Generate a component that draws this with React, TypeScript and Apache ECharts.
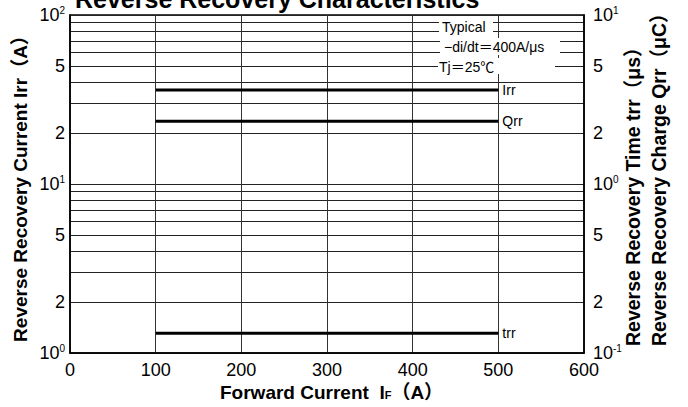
import React, { useEffect, useRef } from 'react';
import * as echarts from 'echarts';

// ---- data ----
const forwardCurrentA = [100, 500];
const irrA = [36, 36];
const qrrMicroC = [2.35, 2.35];
const trrMicroS = [0.131, 0.131];
const seriesNames = ['Irr', 'Qrr', 'trr'];

const leftLabelValues = [1, 2, 5, 10, 20, 50, 100];
const rightLabelValues = [0.1, 0.2, 0.5, 1, 2, 5, 10];
const leftGridValues = [1, 2, 3, 4, 5, 6, 7, 8, 9, 10, 20, 30, 40, 50, 60, 70, 80, 90, 100];

const titleText = 'Reverse Recovery Characteristics';
const leftAxisName = 'Reverse Recovery Current Irr（A）';
const rightAxisNames = ['Reverse Recovery Time trr（μs）', 'Reverse Recovery Charge Qrr（μC）'];
const noteTexts = ['Typical', '−di/dt＝400A/μs', 'Tj＝25℃'];

const FONT = "'Liberation Sans', Arial, 'Noto Sans CJK JP', sans-serif";

function powLabel(v: number): string {
  const e = Math.log10(v);
  const r = Math.round(e);
  if (Math.abs(e - r) < 1e-6) return `{b|10}{s|${r}}`;
  return `{b|${Math.round(v * Math.pow(10, -Math.floor(e)))}}`;
}

const labelRich = {
  b: { fontSize: 18, fontFamily: FONT, color: '#000', lineHeight: 20 },
  s: { fontSize: 10, fontFamily: FONT, color: '#000', verticalAlign: 'top', lineHeight: 20 },
};

export default function App() {
  const ref = useRef<HTMLDivElement>(null);
  useEffect(() => {
    if (!ref.current) return;
    const chart = echarts.init(ref.current, undefined, { renderer: 'svg' });
    const lineStyle = { color: '#000', width: 3 };
    const mk = (name: string, ys: number[], yAxisIndex: number) => ({
      name,
      type: 'line',
      yAxisIndex,
      data: forwardCurrentA.map((x, i) => [x, ys[i]]),
      symbol: 'none',
      lineStyle,
      itemStyle: { color: '#000' },
      z: 5,
      endLabel: {
        show: true,
        formatter: '{a}',
        fontSize: 14,
        fontFamily: FONT,
        color: '#000',
        distance: 4,
      },
    });
    chart.setOption({
      animation: false,
      backgroundColor: '#fff',
      grid: {
        left: 70,
        right: 104,
        top: 15,
        bottom: 54,
        show: true,
        borderColor: '#000',
        borderWidth: 1.5,
        containLabel: false,
        outerBoundsMode: 'none',
      },
      xAxis: {
        type: 'value',
        min: 0,
        max: 600,
        interval: 100,
        axisLine: { show: true, lineStyle: { color: '#000', width: 1.5 } },
        axisTick: { show: false },
        axisLabel: { fontSize: 18, fontFamily: FONT, color: '#000', margin: 8 },
        splitLine: { show: true, lineStyle: { color: '#333', width: 1 } },
      },
      yAxis: [
        {
          type: 'log',
          logBase: 10,
          min: 1,
          max: 100,
          position: 'left',
          axisLine: { show: true, onZero: false, lineStyle: { color: '#000', width: 1.5 } },
          axisTick: { show: false, customValues: leftGridValues },
          axisLabel: {
            customValues: leftLabelValues,
            formatter: (v: number) => powLabel(v),
            rich: labelRich,
            margin: 5,
            showMinLabel: true,
            showMaxLabel: true,
          },
          splitLine: { show: true, lineStyle: { color: '#222', width: 1 } },
        },
        {
          type: 'log',
          logBase: 10,
          min: 0.1,
          max: 10,
          position: 'right',
          axisLine: { show: true, onZero: false, lineStyle: { color: '#000', width: 1.5 } },
          axisTick: { show: false },
          axisLabel: {
            customValues: rightLabelValues,
            formatter: (v: number) => powLabel(v),
            rich: labelRich,
            margin: 9,
            showMinLabel: true,
            showMaxLabel: true,
          },
          splitLine: { show: false },
        },
      ],
      series: [
        mk(seriesNames[0], irrA, 0),
        mk(seriesNames[1], qrrMicroC, 1),
        mk(seriesNames[2], trrMicroS, 1),
      ],
      graphic: [
        {
          type: 'text', x: 75, y: -1, z: 100,
          style: { text: titleText, fontSize: 25, fontWeight: 'bold', fontFamily: FONT, fill: '#000', align: 'left', verticalAlign: 'middle' },
        },
        {
          type: 'text', x: 20, y: 184, rotation: Math.PI / 2, z: 100,
          style: { text: leftAxisName, fontSize: 19, fontWeight: 'bold', fontFamily: FONT, fill: '#000', align: 'center', verticalAlign: 'middle' },
        },
        {
          type: 'text', x: 633, y: 346, rotation: Math.PI / 2, z: 100,
          style: { text: rightAxisNames[0], fontSize: 19.5, fontWeight: 'bold', fontFamily: FONT, fill: '#000', align: 'left', verticalAlign: 'middle' },
        },
        {
          type: 'text', x: 659, y: 346, rotation: Math.PI / 2, z: 100,
          style: { text: rightAxisNames[1], fontSize: 19.5, fontWeight: 'bold', fontFamily: FONT, fill: '#000', align: 'left', verticalAlign: 'middle' },
        },
        {
          type: 'text', x: 220, y: 391, z: 100,
          style: {
            text: '{m|Forward Current  I}{s|F}{m|（A）}',
            align: 'left',
            verticalAlign: 'middle',
            rich: {
              m: { fontSize: 19, fontWeight: 'bold', fontFamily: FONT, fill: '#000', verticalAlign: 'bottom', lineHeight: 22 },
              s: { fontSize: 11, fontWeight: 'bold', fontFamily: FONT, fill: '#000', verticalAlign: 'bottom', lineHeight: 22, padding: [0, 0, 2, 0] },
            },
          },
        },
        // annotation boxes (white background hides grid lines behind the notes)
        { type: 'rect', z: 99, shape: { x: 439, y: 19, width: 54, height: 15 }, style: { fill: '#fff' } },
        { type: 'rect', z: 99, shape: { x: 440, y: 38, width: 120, height: 17 }, style: { fill: '#fff' } },
        { type: 'rect', z: 99, shape: { x: 438, y: 58, width: 117, height: 16 }, style: { fill: '#fff' } },
        {
          type: 'text', x: 442, y: 26.5, z: 100,
          style: { text: noteTexts[0], fontSize: 14, fontFamily: FONT, fill: '#000', align: 'left', verticalAlign: 'middle' },
        },
        {
          type: 'text', x: 444, y: 46.5, z: 100,
          style: { text: noteTexts[1], fontSize: 14, fontFamily: FONT, fill: '#000', align: 'left', verticalAlign: 'middle' },
        },
        {
          type: 'text', x: 439, y: 66.5, z: 100,
          style: { text: noteTexts[2], fontSize: 14, fontFamily: FONT, fill: '#000', align: 'left', verticalAlign: 'middle' },
        },
      ],
    });
    return () => chart.dispose();
  }, []);
  return (
    <div
      ref={ref}
      style={{ position: 'fixed', left: 0, top: 0, width: 688, height: 407, background: '#fff' }}
    />
  );
}
